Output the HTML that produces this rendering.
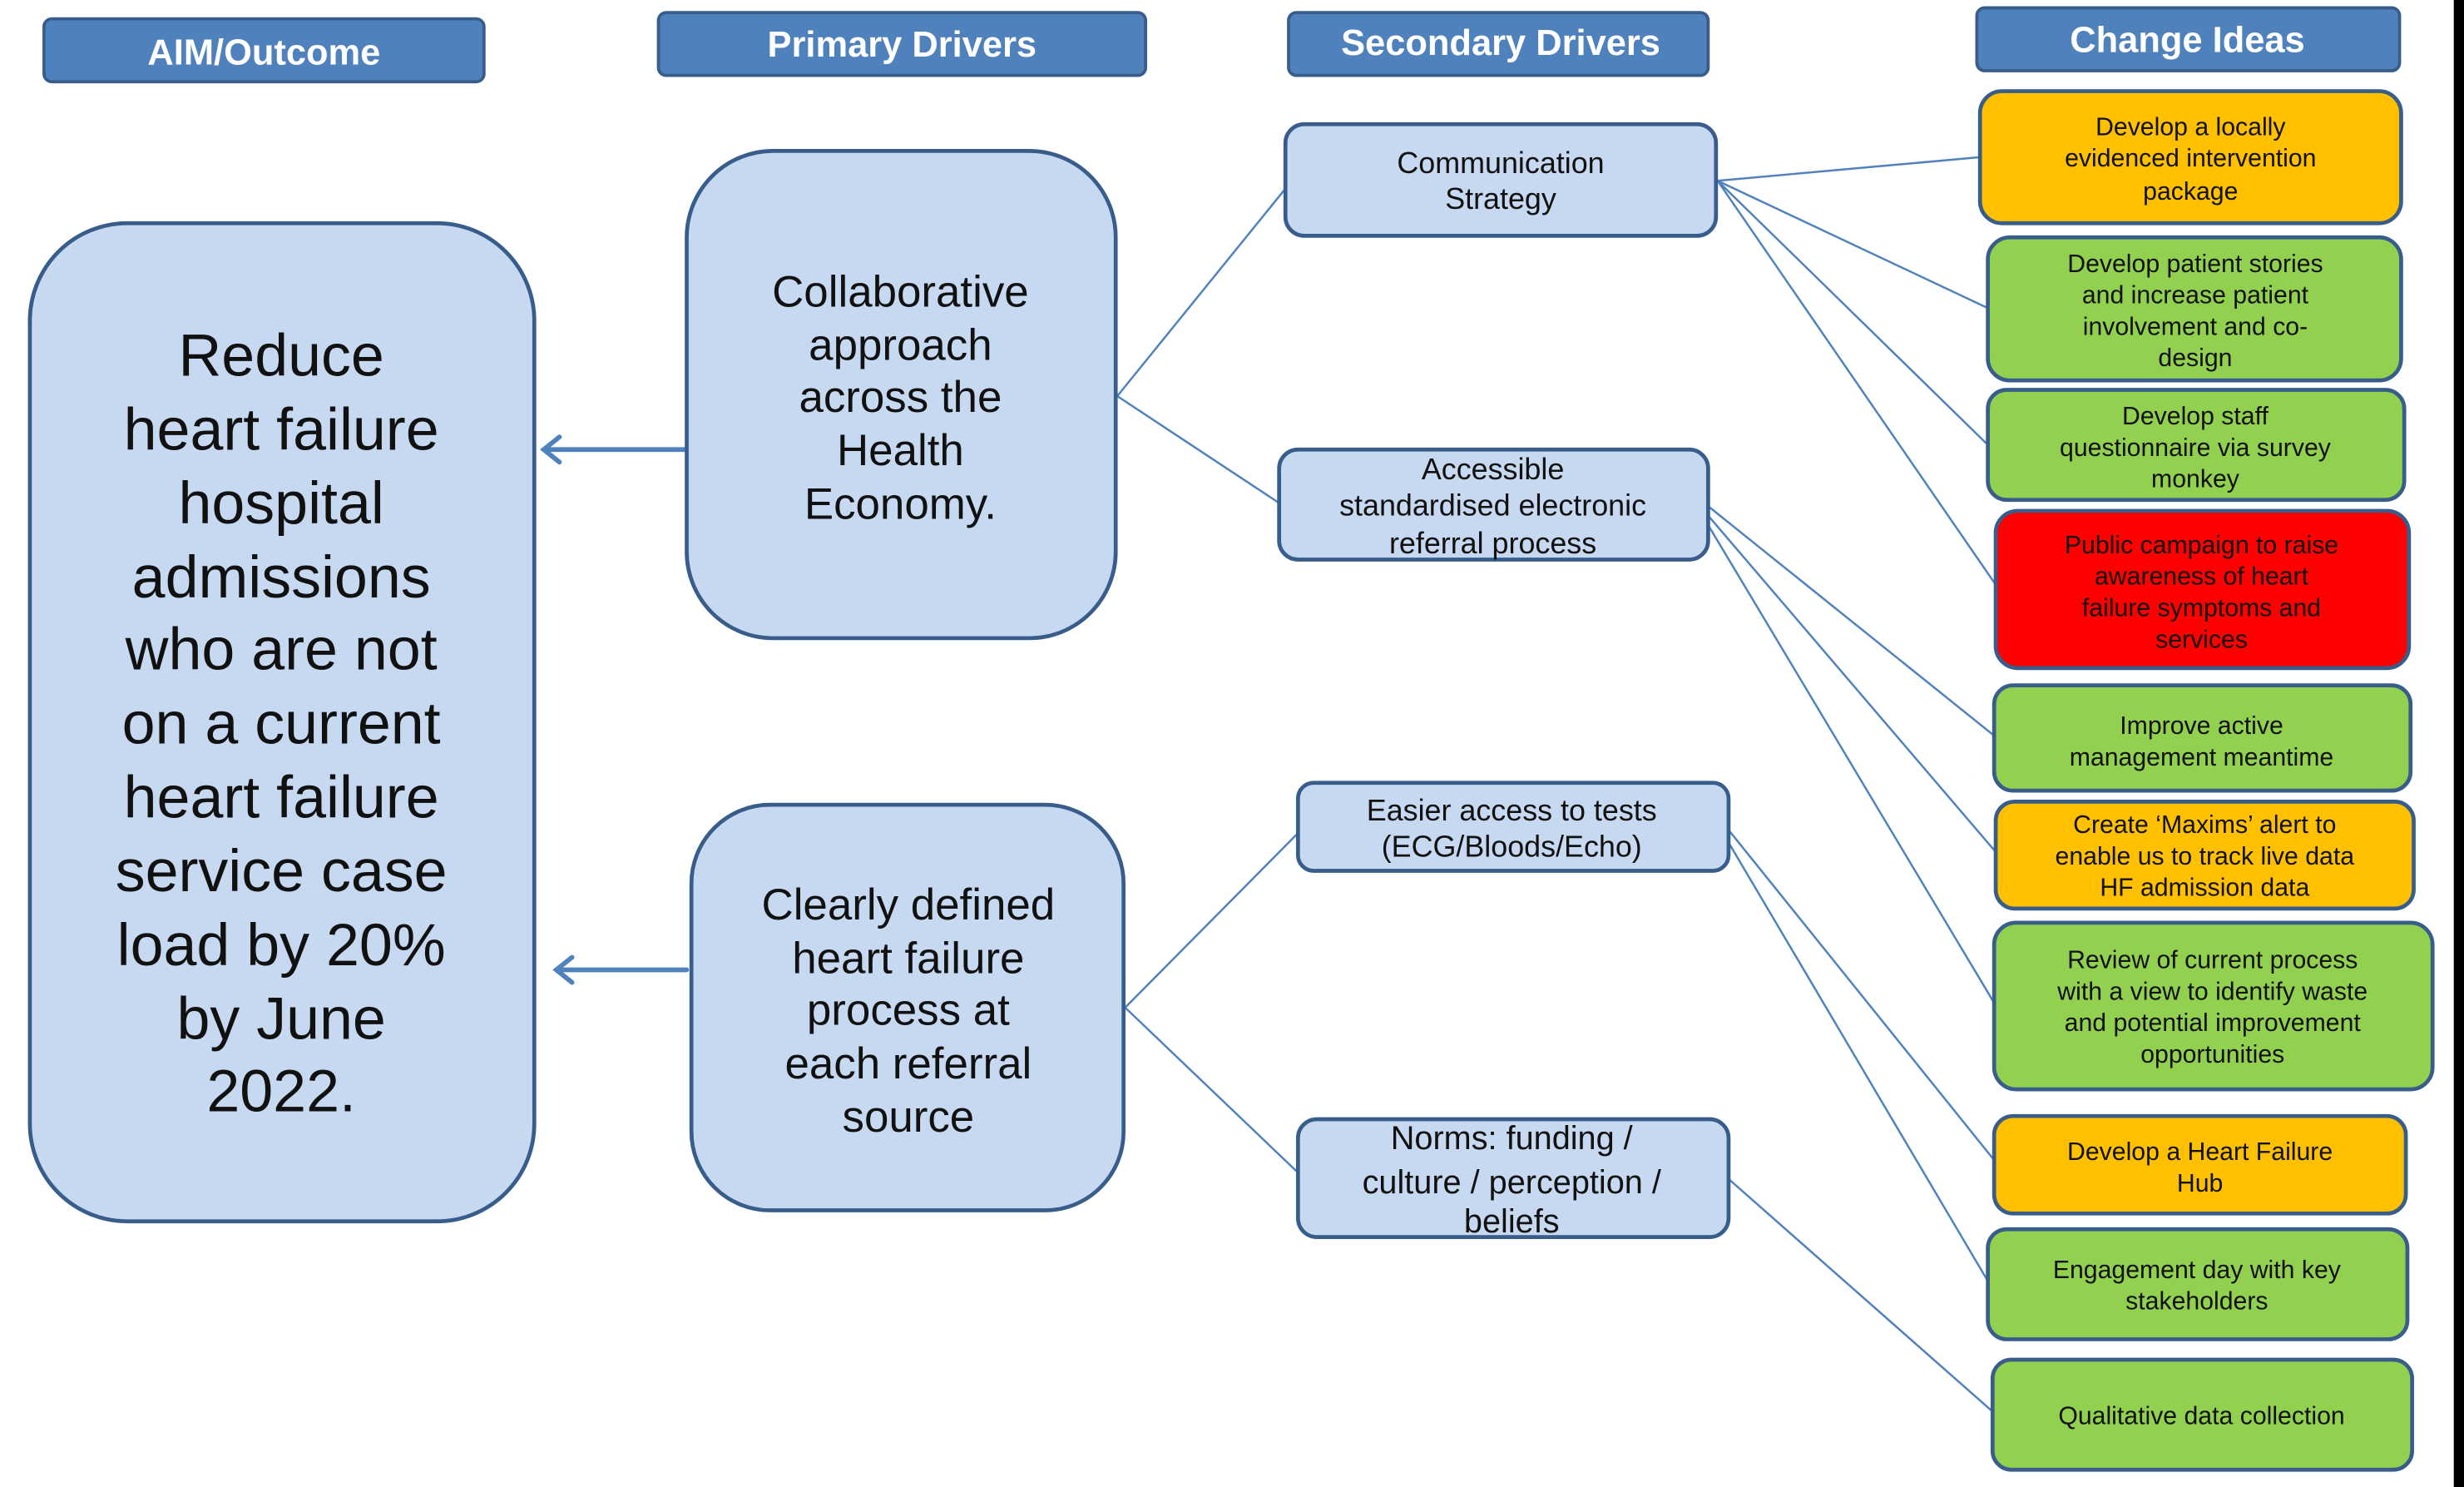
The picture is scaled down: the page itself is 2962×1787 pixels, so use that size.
<!DOCTYPE html>
<html><head><meta charset="utf-8"><style>
html,body{margin:0;padding:0;background:#fff;}
svg{display:block;}
text{font-family:"Liberation Sans",Arial,sans-serif;}
.h{font-weight:bold;fill:#fff;font-size:23px;}
.c{font-size:16px;fill:#111;}
.s{font-size:19px;fill:#111;}
.p{font-size:28px;fill:#111;}
.a{font-size:38px;fill:#111;}
</style></head><body>
<svg width="2962" height="1787" viewBox="0 0 1568 946" xmlns="http://www.w3.org/2000/svg">
<rect x="0" y="0" width="1568" height="946" fill="#fff"/>
<rect x="1561.5" y="0" width="7" height="946" fill="#000"/>
<g stroke="#385d8a" stroke-width="2" fill="#4f81bd">
<rect x="28" y="12" width="280" height="40" rx="5"/>
<rect x="419" y="8" width="310" height="40" rx="5"/>
<rect x="820" y="8" width="267" height="40" rx="5"/>
<rect x="1258" y="5" width="269" height="40" rx="5"/>
</g>
<g text-anchor="middle" class="h">
<text x="168" y="41" class="h">AIM/Outcome</text>
<text x="574" y="36" class="h">Primary Drivers</text>
<text x="955" y="35" class="h">Secondary Drivers</text>
<text x="1392" y="33" class="h">Change Ideas</text>
</g>
<g stroke="#4f81bd" stroke-width="1.3" fill="none">
<line x1="711" y1="252" x2="818" y2="120"/>
<line x1="711" y1="252" x2="814" y2="320"/>
<line x1="716" y1="641" x2="826" y2="530"/>
<line x1="716" y1="641" x2="826" y2="746"/>
<line x1="1093" y1="115" x2="1260" y2="100"/>
<line x1="1093" y1="115" x2="1265" y2="196"/>
<line x1="1093" y1="115" x2="1265" y2="283"/>
<line x1="1093" y1="115" x2="1270" y2="372"/>
<line x1="1087" y1="322" x2="1269" y2="468"/>
<line x1="1087" y1="328" x2="1270" y2="542"/>
<line x1="1087" y1="334" x2="1269" y2="638"/>
<line x1="1100" y1="528" x2="1269" y2="738"/>
<line x1="1100" y1="536" x2="1265" y2="815"/>
<line x1="1100" y1="750" x2="1268" y2="898"/>
</g>
<g stroke="#4f81bd" stroke-width="3" fill="none" stroke-linecap="round">
<line x1="437" y1="286" x2="346" y2="286"/>
<polyline points="356,278 346,286 356,294"/>
<line x1="437" y1="617" x2="354" y2="617"/>
<polyline points="364,609 354,617 364,625"/>
</g>
<g stroke="#385d8a" stroke-width="2.5" fill="#c6d9f1">
<rect x="19" y="142" width="321" height="635" rx="62"/>
<rect x="437" y="96" width="273" height="310" rx="55"/>
<rect x="440" y="512" width="275" height="258" rx="50"/>
<rect x="818" y="79" width="274" height="71" rx="12"/>
<rect x="814" y="286" width="273" height="70" rx="12"/>
<rect x="826" y="498" width="274" height="56" rx="10"/>
<rect x="826" y="712" width="274" height="75" rx="12"/>
</g>
<g text-anchor="middle" class="a">
<text x="179" y="239">Reduce</text>
<text x="179" y="286">heart failure</text>
<text x="179" y="333">hospital</text>
<text x="179" y="380">admissions</text>
<text x="179" y="426">who are not</text>
<text x="179" y="473">on a current</text>
<text x="179" y="520">heart failure</text>
<text x="179" y="567">service case</text>
<text x="179" y="614">load by 20%</text>
<text x="179" y="661">by June</text>
<text x="179" y="707">2022.</text>
</g>
<g text-anchor="middle" class="p">
<text x="573" y="195">Collaborative</text>
<text x="573" y="229">approach</text>
<text x="573" y="262">across the</text>
<text x="573" y="296">Health</text>
<text x="573" y="330">Economy.</text>
<text x="578" y="585">Clearly defined</text>
<text x="578" y="619">heart failure</text>
<text x="578" y="652">process at</text>
<text x="578" y="686">each referral</text>
<text x="578" y="720">source</text>
</g>
<g text-anchor="middle" class="s">
<text x="955" y="110">Communication</text>
<text x="955" y="133">Strategy</text>
<text x="950" y="305">Accessible</text>
<text x="950" y="328">standardised electronic</text>
<text x="950" y="352">referral process</text>
<text x="962" y="522">Easier access to tests</text>
<text x="962" y="545">(ECG/Bloods/Echo)</text>
<text x="962" y="731" font-size="21">Norms: funding /</text>
<text x="962" y="759" font-size="21">culture / perception /</text>
<text x="962" y="784" font-size="21">beliefs</text>
</g>
<g stroke="#385d8a" stroke-width="2.5">
<rect x="1260" y="58" width="268" height="84" rx="14" fill="#ffc000"/>
<rect x="1265" y="151" width="263" height="91" rx="14" fill="#92d050"/>
<rect x="1265" y="248" width="265" height="70" rx="12" fill="#92d050"/>
<rect x="1270" y="325" width="263" height="100" rx="14" fill="#ff0000"/>
<rect x="1269" y="436" width="265" height="67" rx="12" fill="#92d050"/>
<rect x="1270" y="510" width="266" height="68" rx="12" fill="#ffc000"/>
<rect x="1269" y="587" width="279" height="106" rx="14" fill="#92d050"/>
<rect x="1269" y="710" width="262" height="62" rx="12" fill="#ffc000"/>
<rect x="1265" y="782" width="267" height="70" rx="12" fill="#92d050"/>
<rect x="1268" y="865" width="267" height="70" rx="12" fill="#92d050"/>
</g>
<g text-anchor="middle" class="c">
<text x="1394" y="86">Develop a locally</text>
<text x="1394" y="106">evidenced intervention</text>
<text x="1394" y="127">package</text>
<text x="1397" y="173">Develop patient stories</text>
<text x="1397" y="193">and increase patient</text>
<text x="1397" y="213">involvement and co-</text>
<text x="1397" y="233">design</text>
<text x="1397" y="270">Develop staff</text>
<text x="1397" y="290">questionnaire via survey</text>
<text x="1397" y="310">monkey</text>
<text x="1401" y="352">Public campaign to raise</text>
<text x="1401" y="372">awareness of  heart</text>
<text x="1401" y="392">failure symptoms and</text>
<text x="1401" y="412">services</text>
<text x="1401" y="467">Improve active</text>
<text x="1401" y="487">management meantime</text>
<text x="1403" y="530">Create ‘Maxims’ alert to</text>
<text x="1403" y="550">enable us to track live data</text>
<text x="1403" y="570">HF admission data</text>
<text x="1408" y="616">Review of current process</text>
<text x="1408" y="636">with a view to identify waste</text>
<text x="1408" y="656">and potential improvement</text>
<text x="1408" y="676">opportunities</text>
<text x="1400" y="738">Develop a Heart Failure</text>
<text x="1400" y="758">Hub</text>
<text x="1398" y="813">Engagement day with key</text>
<text x="1398" y="833">stakeholders</text>
<text x="1401" y="906">Qualitative data collection</text>
</g>
</svg>
</body></html>
